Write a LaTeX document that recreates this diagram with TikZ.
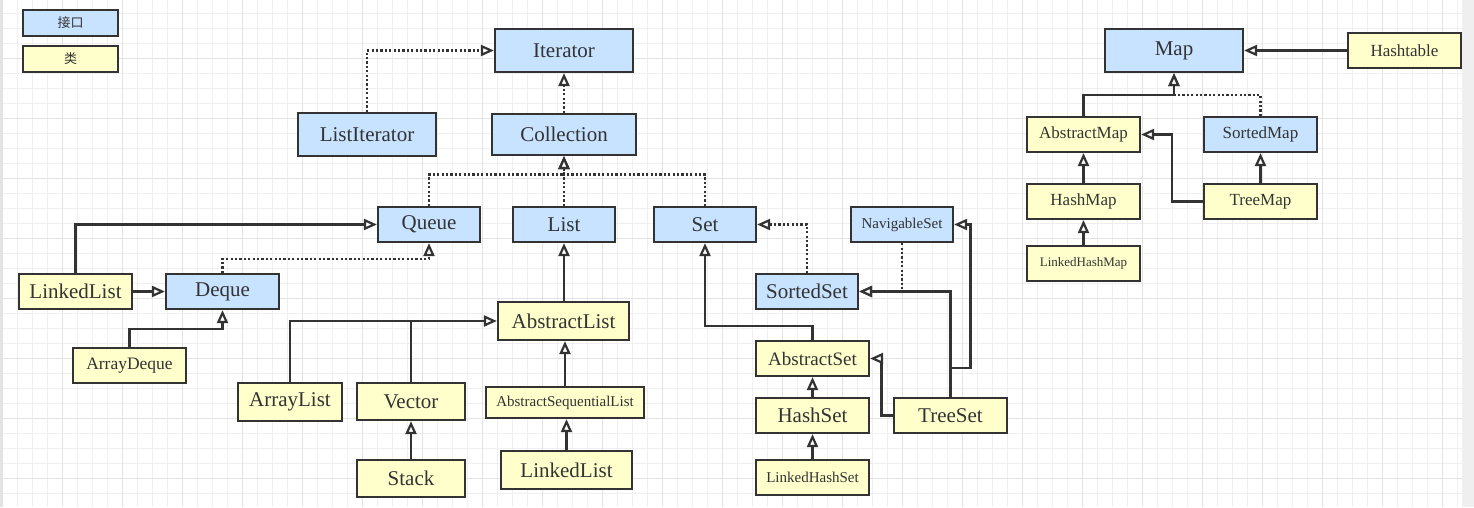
\documentclass[tikz,border=0pt]{standalone}
\usepackage{fontspec}
\setmainfont{Liberation Serif}
\newfontfamily\cjk{Noto Sans CJK SC}
\usetikzlibrary{arrows.meta,calc}
\definecolor{ink}{HTML}{333333}
\definecolor{ifill}{HTML}{C7E3FF}
\definecolor{cfill}{HTML}{FFFFCC}
\definecolor{gminor}{HTML}{EFEFEF}
\definecolor{gmajor}{HTML}{E3E3E3}
\tikzset{
  x=1pt, y=-1pt,
  box/.style={draw=ink, line width=2.2pt, inner sep=0pt, text=ink, align=center},
  iface/.style={box, fill=ifill},
  cls/.style={box, fill=cfill},
  fL/.style={font=\fontsize{21}{21}\selectfont},
  fM/.style={font=\fontsize{17}{17}\selectfont},
  fS/.style={font=\fontsize{15}{15}\selectfont},
  fXS/.style={font=\fontsize{13}{13}\selectfont},
  fLeg/.style={font=\cjk\fontsize{13}{13}\selectfont},
  big/.style={minimum width=138pt, minimum height=43pt},
  std/.style={minimum width=102pt, minimum height=35pt},
  wide/.style={minimum width=113pt, minimum height=35pt},
  conn/.style={draw=ink, line width=2.2pt, -{Triangle[length=13pt,width=11pt,fill=white,line width=2.2pt]}},
  plainconn/.style={draw=ink, line width=2.2pt},
  dotconn/.style={conn, dash pattern=on 2.2pt off 2.2pt},
}
\begin{document}
\begin{tikzpicture}
\useasboundingbox (0,0) rectangle (1474,507);
\fill[white] (0,0) rectangle (1474,507);
% grid
\foreach \gx in {2,17,...,1462} {\draw[gminor, line width=1pt] (\gx,0) -- (\gx,507);}
\foreach \gy in {13,28,...,507} {\draw[gminor, line width=1pt] (0,\gy) -- (1462,\gy);}
\foreach \gx in {2,62,...,1462} {\draw[gmajor, line width=1pt] (\gx,0) -- (\gx,507);}
\foreach \gy in {58,118,...,507} {\draw[gmajor, line width=1pt] (0,\gy) -- (1462,\gy);}
\fill[gminor] (1462,0) rectangle (1474,507);
\fill[gmajor] (0,0) rectangle (2.5,507);

% legend
\node[iface, fLeg, minimum width=95pt, minimum height=26pt] (legI) at (70.5,23) {接口};
\node[cls, fLeg, minimum width=95pt, minimum height=26pt] (legC) at (70.5,59) {类};

% collection side
\node[iface, fL, big] (Iterator) at (564,50.5) {Iterator};
\node[iface, fL, big] (ListIterator) at (367,134.5) {ListIterator};
\node[iface, fL, minimum width=144pt, minimum height=41pt] (Collection) at (564,134.5) {Collection};
\node[iface, fL, std] (Queue) at (429,224.5) {Queue};
\node[iface, fL, std] (List) at (564,224.5) {List};
\node[iface, fL, std] (Set) at (705,224.5) {Set};
\node[iface, fS, std] (NavigableSet) at (902,224.5) {NavigableSet};
\node[cls, fL, wide] (LinkedListA) at (75.5,291.5) {LinkedList};
\node[iface, fL, wide] (Deque) at (222.5,291.5) {Deque};
\node[iface, fL, std] (SortedSet) at (807,291.5) {SortedSet};
\node[cls, fL, minimum width=131pt, minimum height=38pt] (AbstractList) at (563.5,321) {AbstractList};
\node[cls, font=\fontsize{17.5}{17.5}\selectfont, wide] (ArrayDeque) at (129.5,365.5) {ArrayDeque};
\node[cls, font=\fontsize{19}{19}\selectfont, wide] (AbstractSet) at (812.5,358.5) {AbstractSet};
\node[cls, fL, minimum width=104pt, minimum height=38pt] (ArrayList) at (290,402) {ArrayList};
\node[cls, fL, minimum width=108pt, minimum height=37pt] (Vector) at (411,401.5) {Vector};
\node[cls, fS, minimum width=158pt, minimum height=31pt] (ASL) at (565,402.5) {AbstractSequentialList};
\node[cls, fL, wide] (HashSet) at (812.5,415.5) {HashSet};
\node[cls, fL, wide] (TreeSet) at (950.5,415.5) {TreeSet};
\node[cls, fL, minimum width=108pt, minimum height=37pt] (Stack) at (411,478.5) {Stack};
\node[cls, fL, minimum width=131pt, minimum height=38pt] (LinkedListB) at (566.5,470) {LinkedList};
\node[cls, fS, wide] (LinkedHashSet) at (812.5,477.5) {LinkedHashSet};

% map side
\node[iface, fL, big] (Map) at (1174,50.5) {Map};
\node[cls, fM, wide] (Hashtable) at (1404.5,50.5) {Hashtable};
\node[cls, fM, wide] (AbstractMap) at (1083.5,134.5) {AbstractMap};
\node[iface, fM, wide] (SortedMap) at (1260.5,134.5) {SortedMap};
\node[cls, fM, wide] (HashMap) at (1083.5,201.5) {HashMap};
\node[cls, fM, wide] (TreeMap) at (1260.5,201.5) {TreeMap};
\node[cls, fXS, wide] (LinkedHashMap) at (1083.5,263.5) {LinkedHashMap};

% junctions
\coordinate (jc) at (564,174.5);
\coordinate (jq) at (429,259);
\coordinate (jd) at (222.5,329);
\coordinate (js) at (705,326);
\coordinate (jt) at (881.5,358.5);
\coordinate (jn) at (970.5,368);
\coordinate (jm) at (1174,95);
\coordinate (jtm) at (1172,134.5);

% connectors: collection side
\draw[dotconn] (ListIterator.north) |- (Iterator.west);
\draw[dotconn] (Collection.north) -- (Iterator.south);
\draw[dotconn] (Queue.north) |- (jc) -- (Collection.south);
\draw[dotconn] (Set.north) |- (jc) -- (Collection.south);
\draw[dotconn] (List.north) -- (Collection.south);
\draw[conn] (LinkedListA.north) |- (Queue.west);
\draw[conn] (LinkedListA.east) -- (Deque.west);
\draw[dotconn] (Deque.north) |- (jq) -- (Queue.south);
\draw[conn] (ArrayDeque.north) |- (jd) -- (Deque.south);
\draw[conn] (AbstractList.north -| List.south) -- (List.south);
\draw[conn] (ArrayList.north) |- (AbstractList.west);
\draw[plainconn] (Vector.north) -- (Vector.north |- AbstractList.west);
\draw[conn] (ASL.north) -- (ASL.north |- AbstractList.south);
\draw[conn] (LinkedListB.north) -- (LinkedListB.north |- ASL.south);
\draw[conn] (Stack.north) -- (Vector.south);
\draw[dotconn] (SortedSet.north) |- (Set.east);
\draw[dotconn] (NavigableSet.south) |- (SortedSet.east);
\draw[conn] (AbstractSet.north) |- (js) -- (Set.south);
\draw[conn] (HashSet.north) -- (AbstractSet.south);
\draw[conn] (LinkedHashSet.north) -- (HashSet.south);
\draw[conn] (TreeSet.west) -| (jt) -- (AbstractSet.east);
\draw[conn] (TreeSet.north) |- (SortedSet.east);
\draw[conn] (TreeSet.north |- jn) -- (jn) |- (NavigableSet.east);

% connectors: map side
\draw[conn] (Hashtable.west) -- (Map.east);
\draw[conn] (AbstractMap.north) |- (jm) -- (Map.south);
\draw[dotconn] (SortedMap.north) |- (jm) -- (Map.south);
\draw[conn] (HashMap.north) -- (AbstractMap.south);
\draw[conn] (LinkedHashMap.north) -- (HashMap.south);
\draw[conn] (TreeMap.north) -- (SortedMap.south);
\draw[conn] (TreeMap.west) -| (jtm) -- (AbstractMap.east);
\end{tikzpicture}
\end{document}
